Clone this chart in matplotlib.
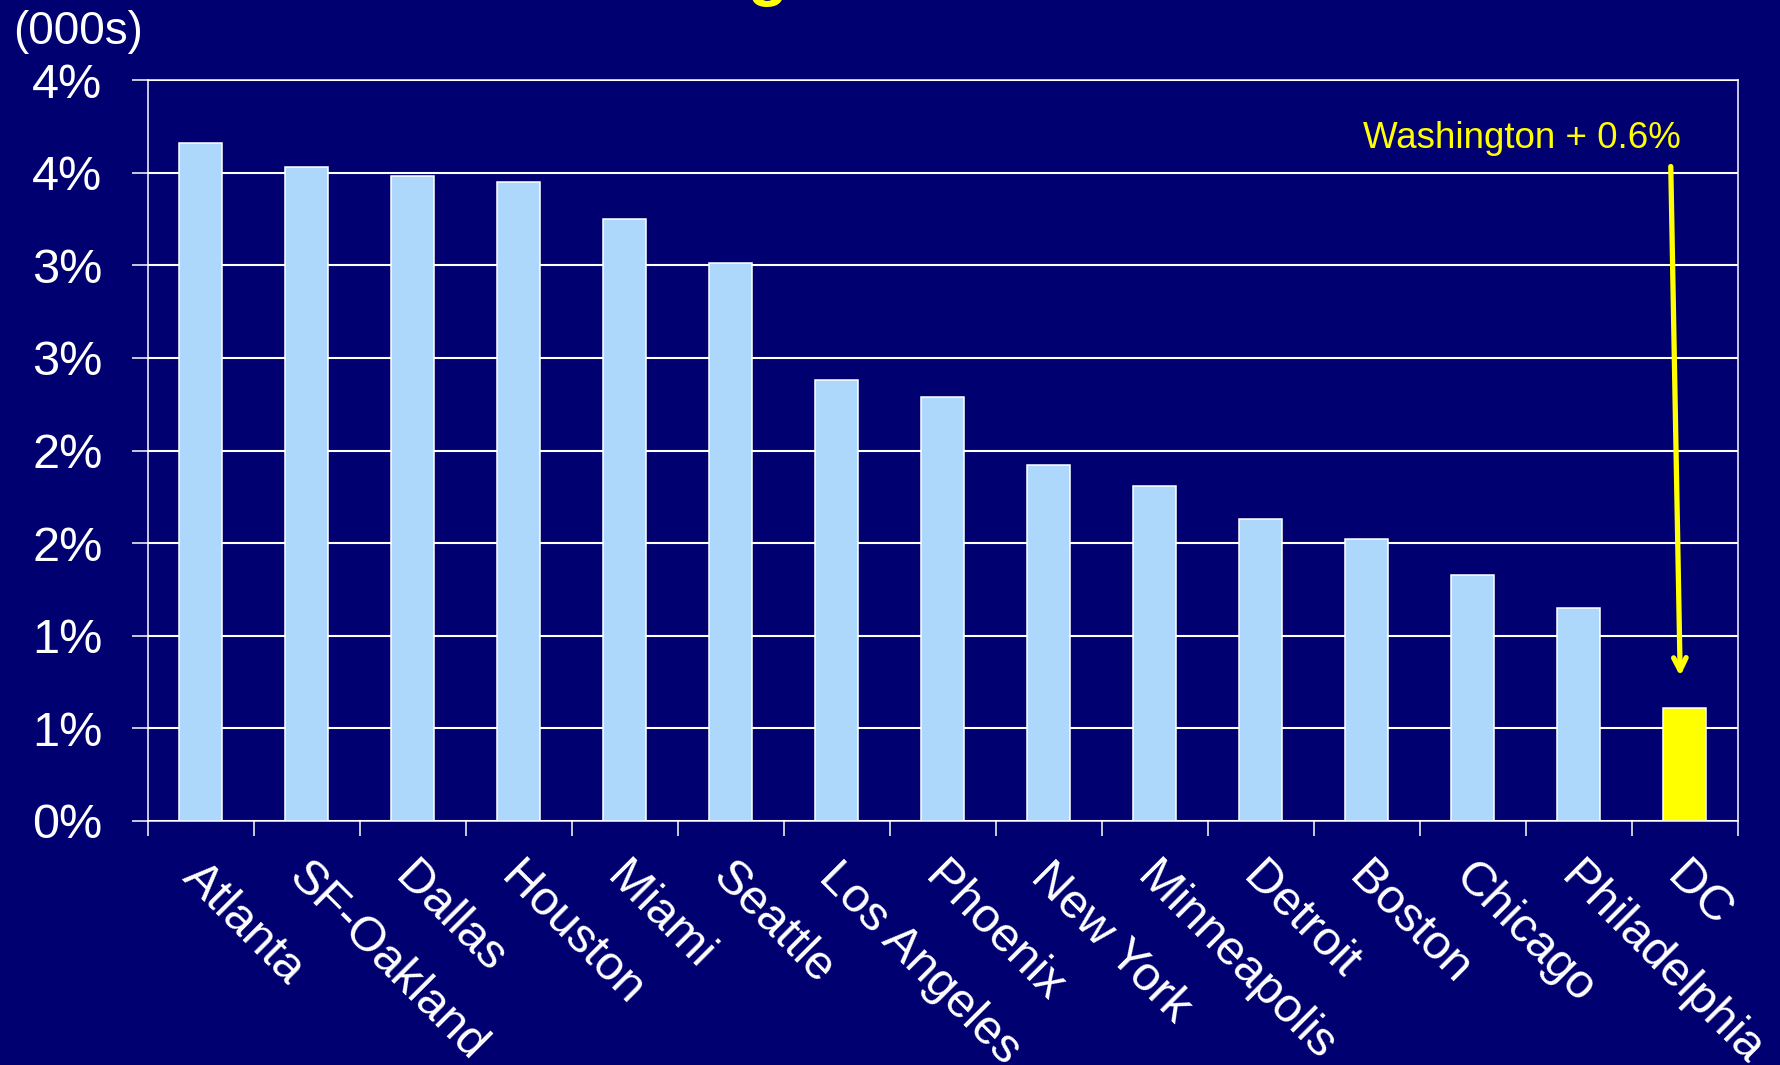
import numpy as np
import matplotlib
matplotlib.use("Agg")
import matplotlib.pyplot as plt
import matplotlib.transforms as mtransforms

# metro areas and growth (%)
cities = ['Atlanta', 'SF-Oakland', 'Dallas', 'Houston', 'Miami', 'Seattle',
          'Los Angeles', 'Phoenix', 'New York', 'Minneapolis', 'Detroit',
          'Boston', 'Chicago', 'Philadelphia', 'DC']
growth = [3.66, 3.53, 3.48, 3.45, 3.25, 3.01, 2.38, 2.29, 1.92, 1.81,
          1.63, 1.52, 1.33, 1.15, 0.61]
yticks = [0, 0.5, 1.0, 1.5, 2.0, 2.5, 3.0, 3.5, 4.0]
ytick_labels = ['0%', '1%', '1%', '2%', '2%', '3%', '3%', '4%', '4%']
note = 'Washington + 0.6%'
units = '(000s)'

navy = '#000070'
light = '#ADD8FB'
yellow = '#FFFF00'

plt.rcParams['font.family'] = ['Liberation Sans', 'DejaVu Sans']

fig = plt.figure(figsize=(17.8, 10.65), dpi=100, facecolor=navy)
ax = fig.add_axes([147.6/1780, 1 - 821/1065, (1737.5-147.6)/1780, (821-80)/1065])
ax.set_facecolor(navy)

x = np.arange(len(cities))
colors = [light]*(len(cities)-1) + [yellow]
ax.bar(x, growth, width=0.40, color=colors, edgecolor='white', linewidth=1.1, zorder=3)

ax.set_xlim(-0.5, len(cities)-0.5)
ax.set_ylim(0, 4.0)

# grid + y axis
ax.set_yticks(yticks)
ax.set_yticklabels(ytick_labels)
ax.yaxis.grid(True, color='white', linewidth=1.5, zorder=0)
ax.tick_params(axis='y', colors='white', labelsize=35, length=11.5, width=1.1, pad=21)

# x ticks between categories, labels at centers
ax.set_xticks(np.arange(-0.5, len(cities), 1.0))
ax.set_xticklabels([])
ax.tick_params(axis='x', which='major', colors='white', length=10.5, width=1.1)
ax.set_xticks(x, cities, minor=True)
ax.tick_params(axis='x', which='minor', length=0, pad=24, colors='white', labelsize=35)
shift = mtransforms.ScaledTranslation(5/100, 0, fig.dpi_scale_trans)
for lab in ax.get_xticklabels(minor=True):
    lab.set_rotation(-45)
    lab.set_ha('left')
    lab.set_va('top')
    lab.set_rotation_mode('anchor')
    lab.set_transform(lab.get_transform() + shift)

for s in ax.spines.values():
    s.set_color('white')
    s.set_linewidth(1.1)

# annotation for DC
ax.annotate('', xy=(13.96, 0.767), xytext=(13.87, 3.548),
            arrowprops=dict(arrowstyle='->,head_length=0.9,head_width=0.45',
                            color=yellow, lw=3.8))
fig.text(1522/1780, 1 - 139/1065, note, color=yellow, fontsize=26.5,
         ha='center', va='center')

fig.text(78/1780, 1 - 32/1065, units, color='white', fontsize=33,
         ha='center', va='center')

# title mostly above the frame, only a descender shows
fig.text(767/1780, 1 + 6/1065, 'g', color=yellow, fontsize=47,
         ha='center', va='baseline', fontweight='bold')

fig.savefig('out.png', dpi=100, facecolor=navy)
